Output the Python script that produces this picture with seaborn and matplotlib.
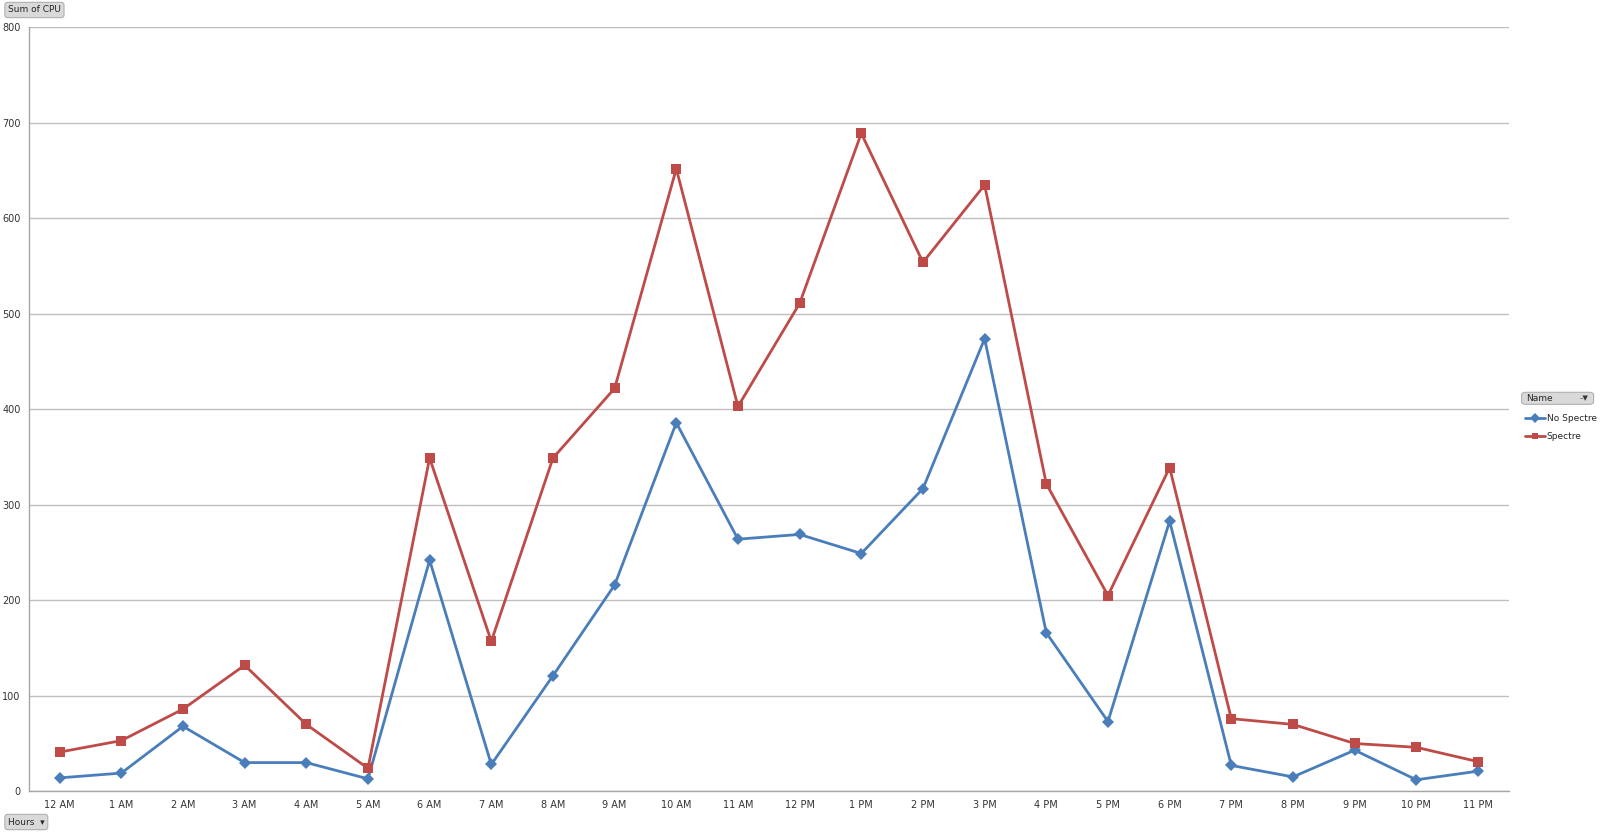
import matplotlib
matplotlib.use("Agg")
import matplotlib.pyplot as plt
from matplotlib.patches import FancyBboxPatch
from matplotlib.ticker import FixedLocator, NullFormatter
import pandas as pd
import seaborn as sns

HOURS = ["12 AM", "1 AM", "2 AM", "3 AM", "4 AM", "5 AM", "6 AM", "7 AM",
         "8 AM", "9 AM", "10 AM", "11 AM", "12 PM", "1 PM", "2 PM", "3 PM",
         "4 PM", "5 PM", "6 PM", "7 PM", "8 PM", "9 PM", "10 PM", "11 PM"]
NO_SPECTRE = [14, 19, 68, 30, 30, 13, 242, 28, 121, 216, 386, 264,
              269, 249, 317, 474, 166, 73, 283, 27, 15, 43, 12, 21]
SPECTRE = [41, 53, 86, 132, 70, 24, 349, 157, 349, 422, 652, 403,
           511, 689, 554, 635, 322, 205, 339, 76, 70, 50, 46, 31]
SERIES = ["No Spectre", "Spectre"]
Y_TICKS = [0, 100, 200, 300, 400, 500, 600, 700, 800]

PALETTE = {"No Spectre": "#4A7EBB", "Spectre": "#BE4B48"}
MARKERS = {"No Spectre": "D", "Spectre": "s"}

df = pd.DataFrame({
    "hour": list(range(len(HOURS))) * 2,
    "cpu": NO_SPECTRE + SPECTRE,
    "Name": [SERIES[0]] * len(HOURS) + [SERIES[1]] * len(HOURS),
})

sns.set_style("white")
plt.rcParams["font.family"] = ["DejaVu Sans"]

fig = plt.figure(figsize=(16, 8.32), dpi=100)
ax = fig.add_axes([0.018, 0.049, 0.925, 0.918])

sns.lineplot(data=df, x="hour", y="cpu", hue="Name", style="Name",
             hue_order=SERIES, palette=PALETTE, markers=MARKERS, dashes=False,
             markersize=6.5, markeredgewidth=0, linewidth=2, ax=ax, legend=False)

ax.set_xlim(-0.5, len(HOURS) - 0.5)
ax.set_ylim(0, 800)
ax.set_yticks(Y_TICKS)
ax.set_yticklabels([str(v) for v in Y_TICKS], fontsize=7, color="#333333")
ax.yaxis.grid(True, color="#BFBFBF", linewidth=1)
ax.set_axisbelow(True)

ax.set_xticks(range(len(HOURS)))
ax.set_xticklabels(HOURS, fontsize=7, color="#333333")
ax.tick_params(axis="x", which="major", length=0, pad=6)
ax.xaxis.set_minor_locator(FixedLocator([i - 0.5 for i in range(len(HOURS) + 1)]))
ax.xaxis.set_minor_formatter(NullFormatter())
ax.tick_params(axis="x", which="minor", length=4, color="#A6A6A6", direction="out")
ax.tick_params(axis="y", length=4, color="#A6A6A6", direction="out", pad=2)

for side in ["top", "right"]:
    ax.spines[side].set_visible(False)
for side in ["left", "bottom"]:
    ax.spines[side].set_color("#A6A6A6")
    ax.spines[side].set_linewidth(1)

ax.set_xlabel("")
ax.set_ylabel("")

btn = dict(boxstyle="round,pad=0.35,rounding_size=0.3", facecolor="#D9D9D9",
           edgecolor="#B0B0B0", linewidth=0.8)
fig.text(0.005, 0.988, "Sum of CPU", fontsize=6.5, va="center", ha="left", bbox=btn)
fig.text(0.005, 0.012, "Hours  \u25be", fontsize=6.5, va="center", ha="left", bbox=btn)

# "Name" field header over the legend
hdr = FancyBboxPatch((0.951, 0.514), 0.045, 0.0145,
                     boxstyle="round,pad=0.0,rounding_size=0.003",
                     transform=fig.transFigure, facecolor="#D9D9D9",
                     edgecolor="#B0B0B0", linewidth=0.8)
fig.patches.append(hdr)
fig.text(0.954, 0.5212, "Name", fontsize=6.5, va="center", ha="left")
fig.text(0.993, 0.5212, "\u2013\u25bc", fontsize=5, va="center", ha="right", color="#333333")

handles = [plt.Line2D([], [], color=PALETTE[s], marker=MARKERS[s], markersize=5,
                      markeredgewidth=0, linewidth=2) for s in SERIES]
fig.legend(handles, SERIES, loc="upper left", bbox_to_anchor=(0.948, 0.512),
           frameon=False, fontsize=6.5, handlelength=2.2, handletextpad=0.2,
           labelspacing=1.0)

fig.savefig("out.png", dpi=100)
